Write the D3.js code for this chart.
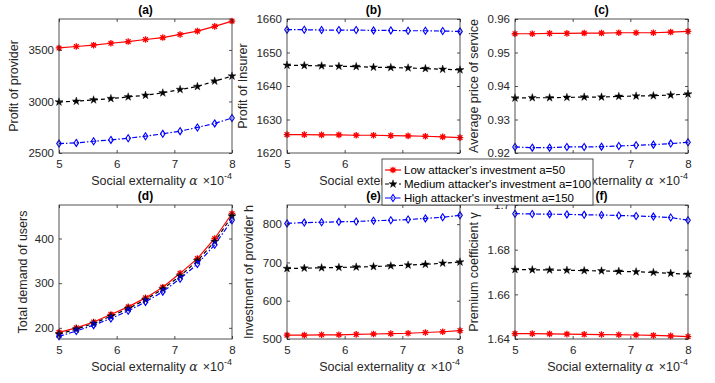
<!DOCTYPE html>
<html>
<head>
<meta charset="utf-8">
<script src="https://cdn.jsdelivr.net/npm/d3@7"></script>
<style>
  body { margin: 0; background: #fff; }
  text { font-family: Arial, "Liberation Sans", sans-serif; }
</style>
</head>
<body>
<div id="chart"></div>
<script>
// x values: social externality alpha (x10^-4)
const alphas = [5, 5.3, 5.6, 5.9, 6.2, 6.5, 6.8, 7.1, 7.4, 7.7, 8];
const seriesNames = ["Low attacker's investment a=50", "Medium attacker's investment a=100", "High attacker's investment a=150"];

// (a) profit of provider
const providerLow = [3519, 3533, 3546, 3565, 3581, 3601, 3620, 3650, 3682, 3728, 3780];
const providerMed = [2995, 3002, 3015, 3028, 3044, 3060, 3083, 3116, 3145, 3197, 3246];
const providerHigh = [2591, 2598, 2614, 2627, 2643, 2663, 2686, 2712, 2748, 2787, 2839];
// (b) profit of insurer
const insurerLow = [1625.5, 1625.5, 1625.4, 1625.4, 1625.3, 1625.3, 1625.2, 1625.1, 1625.0, 1624.8, 1624.6];
const insurerMed = [1646.2, 1646.1, 1646.0, 1645.9, 1645.8, 1645.6, 1645.5, 1645.4, 1645.2, 1645.0, 1644.8];
const insurerHigh = [1656.8, 1656.8, 1656.7, 1656.7, 1656.7, 1656.6, 1656.6, 1656.5, 1656.5, 1656.4, 1656.3];
// (c) average price of service
const priceLow = [0.9556, 0.9556, 0.9557, 0.9557, 0.9558, 0.9558, 0.9559, 0.9559, 0.9559, 0.9561, 0.9563];
const priceMed = [0.9364, 0.9365, 0.9365, 0.9366, 0.9367, 0.9367, 0.9369, 0.9370, 0.9371, 0.9373, 0.9376];
const priceHigh = [0.9218, 0.9216, 0.9216, 0.9218, 0.9218, 0.9219, 0.9221, 0.9223, 0.9225, 0.9228, 0.9232];
// (d) total demand of users
const demandLow = [190, 200, 213, 230, 247, 267, 291, 322, 355, 400, 456];
const demandMed = [186, 197, 210, 226, 243, 263, 287, 316, 350, 393, 450];
const demandHigh = [181, 193, 206, 221, 238, 258, 281, 310, 343, 386, 441];
// (e) investment of provider h
const investLow = [510, 510, 511, 511, 512, 513, 514, 515, 517, 519, 522];
const investMed = [684, 685, 686, 687, 688, 689, 691, 693, 695, 698, 701];
const investHigh = [802, 804, 805, 806, 807, 809, 810, 812, 815, 818, 823];
// (f) premium coefficient gamma
const premiumLow = [1.6424, 1.6424, 1.6423, 1.6422, 1.6421, 1.6420, 1.6419, 1.6418, 1.6416, 1.6414, 1.6411];
const premiumMed = [1.6711, 1.6710, 1.6709, 1.6708, 1.6706, 1.6705, 1.6703, 1.6701, 1.6698, 1.6694, 1.6690];
const premiumHigh = [1.6961, 1.6960, 1.6959, 1.6958, 1.6956, 1.6955, 1.6953, 1.6951, 1.6948, 1.6944, 1.6932];

const xTicks = [5, 6, 7, 8];
const titles = ["(a)", "(b)", "(c)", "(d)", "(e)", "(f)"];
const yLabels = ["Profit of provider", "Profit of Insurer", "Average price of service",
                 "Total demand of users", "Investment of provider h", "Premium coefficient \u03b3"];
const yDomains = [[2500, 3800], [1620, 1660], [0.92, 0.96], [175, 475], [500, 850], [1.64, 1.70]];
const yTicks = [[2500, 3000, 3500], [1620, 1630, 1640, 1650, 1660], [0.92, 0.93, 0.94, 0.95, 0.96],
                [200, 300, 400], [500, 600, 700, 800], [1.64, 1.66, 1.68, 1.70]];
const panelData = [
  [providerLow, providerMed, providerHigh],
  [insurerLow, insurerMed, insurerHigh],
  [priceLow, priceMed, priceHigh],
  [demandLow, demandMed, demandHigh],
  [investLow, investMed, investHigh],
  [premiumLow, premiumMed, premiumHigh]
];

const width = 715, height = 383;
const colLeft = [59, 287, 515];
const rowTop = [19, 205];
const pw = 173, ph = 134;
const ylabelAbs = [18, 247, 478, 27, 253, 478]; // absolute x of y-labels
const axisColor = "#262626";

const styles = [
  {color: "#ff0000", dash: null, marker: "asterisk"},
  {color: "#000000", dash: "4,3", marker: "star"},
  {color: "#0000ff", dash: "5,2,1.5,2", marker: "diamond"}
];

const svg = d3.select("#chart").append("svg")
  .attr("width", width).attr("height", height);

function drawMarker(g, type, color) {
  if (type === "asterisk") {
    const r = 3.3, d = r * 0.72;
    g.append("path")
      .attr("d", `M${-r},0L${r},0M0,${-r}L0,${r}M${-d},${-d}L${d},${d}M${-d},${d}L${d},${-d}`)
      .attr("stroke", color).attr("stroke-width", 1.3).attr("fill", "none");
  } else if (type === "star") {
    g.append("path")
      .attr("d", d3.symbol(d3.symbolStar, 20)())
      .attr("fill", color).attr("stroke", color).attr("stroke-width", 0.4);
  } else {
    g.append("path")
      .attr("d", "M0,-3.5L2.3,0L0,3.5L-2.3,0Z")
      .attr("fill", "none").attr("stroke", color).attr("stroke-width", 1.1);
  }
}

panelData.forEach((series, i) => {
  const col = i % 3, row = Math.floor(i / 3);
  const x0 = colLeft[col], y0 = rowTop[row];
  const g = svg.append("g").attr("transform", `translate(${x0},${y0})`);

  const x = d3.scaleLinear().domain([5, 8]).range([0, pw]);
  const y = d3.scaleLinear().domain(yDomains[i]).range([ph, 0]);

  // lines and markers
  series.forEach((vals, s) => {
    const st = styles[s];
    const pts = vals.map((v, k) => [alphas[k], v]);
    g.append("path")
      .datum(pts)
      .attr("d", d3.line().x(d => x(d[0])).y(d => y(d[1])))
      .attr("fill", "none")
      .attr("stroke", st.color)
      .attr("stroke-width", 1.2)
      .attr("stroke-dasharray", st.dash);
    pts.forEach(p => {
      const m = g.append("g").attr("transform", `translate(${x(p[0])},${y(p[1])})`);
      drawMarker(m, st.marker, st.color);
    });
  });

  // box
  g.append("rect").attr("width", pw).attr("height", ph)
    .attr("fill", "none").attr("stroke", axisColor).attr("stroke-width", 0.8);

  // axes, ticks inside on all four sides
  g.append("g").attr("transform", `translate(0,${ph})`)
    .call(d3.axisBottom(x).tickValues(xTicks).tickSizeInner(-3).tickSizeOuter(0).tickPadding(7).tickFormat(d3.format("d")));
  g.append("g")
    .call(d3.axisLeft(y).tickValues(yTicks[i]).tickSizeInner(-3).tickSizeOuter(0).tickPadding(5)
      .tickFormat(d => String(+d.toFixed(4))));
  g.append("g").attr("transform", `translate(${pw},0)`)
    .call(d3.axisRight(y).tickValues(yTicks[i]).tickSizeInner(-3).tickSizeOuter(0).tickFormat(""));
  g.append("g")
    .call(d3.axisTop(x).tickValues(xTicks).tickSizeInner(-3).tickSizeOuter(0).tickFormat(""));
  g.selectAll(".domain").remove();
  g.selectAll(".tick line").attr("stroke", axisColor).attr("stroke-width", 0.8);
  g.selectAll(".tick text").attr("fill", axisColor).style("font-size", "11.5px")
    .style("font-family", "Arial, 'Liberation Sans', sans-serif");

  // title
  g.append("text").attr("x", pw / 2).attr("y", -5)
    .attr("text-anchor", "middle").attr("font-weight", "bold")
    .attr("font-size", 12).attr("fill", "#000").text(titles[i]);

  // x label
  const xl = g.append("text").attr("x", pw / 2 - 1).attr("y", ph + 32)
    .attr("text-anchor", "middle").attr("font-size", 12.5).attr("fill", axisColor);
  xl.append("tspan").text("Social externality ");
  xl.append("tspan").attr("font-style", "italic").attr("font-family", "'DejaVu Serif', serif").text("\u03b1");

  // exponent label
  const ex = g.append("text").attr("x", pw).attr("y", ph + 32)
    .attr("text-anchor", "end").attr("font-size", 12.5).attr("fill", axisColor);
  ex.append("tspan").text("\u00d710");
  ex.append("tspan").attr("dy", -6).attr("font-size", 9).text("-4");

  // y label
  g.append("text")
    .attr("transform", `translate(${ylabelAbs[i] - x0},${ph / 2}) rotate(-90)`)
    .attr("text-anchor", "middle").attr("font-size", 12.5).attr("fill", axisColor)
    .text(yLabels[i]);
});

// legend
const lg = svg.append("g").attr("transform", "translate(382,159)");
lg.append("rect").attr("width", 211).attr("height", 46)
  .attr("fill", "#fff").attr("stroke", "#262626").attr("stroke-width", 0.8);
seriesNames.forEach((name, s) => {
  const st = styles[s];
  const cy = 11 + s * 14;
  lg.append("line").attr("x1", 3).attr("x2", 19).attr("y1", cy).attr("y2", cy)
    .attr("stroke", st.color).attr("stroke-width", 1.2).attr("stroke-dasharray", st.dash);
  const m = lg.append("g").attr("transform", `translate(11,${cy})`);
  drawMarker(m, st.marker, st.color);
  lg.append("text").attr("x", 22).attr("y", cy + 4).attr("font-size", 11.5)
    .attr("fill", "#000").text(name);
});
</script>
</body>
</html>
